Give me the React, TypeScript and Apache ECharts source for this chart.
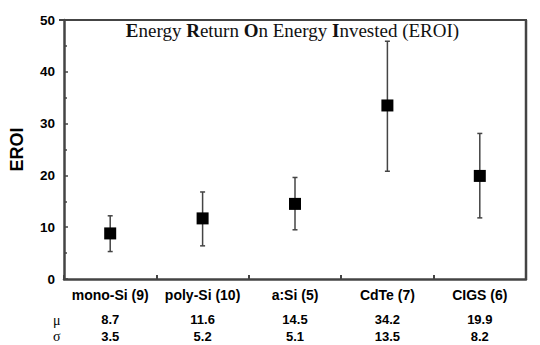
import React, { useEffect, useRef } from "react";
import * as echarts from "echarts";

const categories = ["mono-Si (9)", "poly-Si (10)", "a:Si (5)", "CdTe (7)", "CIGS (6)"];
const plotted = [8.8, 11.7, 14.5, 33.5, 19.9];
const lows = [5.3, 6.4, 9.5, 20.8, 11.8];
const highs = [12.2, 16.8, 19.6, 45.9, 28.1];
const muLabels = ["8.7", "11.6", "14.5", "34.2", "19.9"];
const sigmaLabels = ["3.5", "5.2", "5.1", "13.5", "8.2"];
const yTicks = [0, 10, 20, 30, 40, 50];

const GRID = { left: 59, right: 14, top: 20, bottom: 66 };
const W = 540;
const H = 345;
const FRAME = "#444";

export default function App() {
  const ref = useRef<HTMLDivElement>(null);
  useEffect(() => {
    if (!ref.current) return;
    const chart = echarts.init(ref.current, null, { renderer: "svg" });
    const labelFont = "Liberation Sans, Arial, sans-serif";
    const serif = "Liberation Serif, Times New Roman, serif";
    const rowAxis = (data: string[], offset: number) => ({
      type: "category",
      data,
      gridIndex: 0,
      position: "bottom",
      offset,
      axisLine: { show: false },
      axisTick: { show: false },
      axisLabel: {
        margin: 0,
        interval: 0,
        color: "#000",
        fontWeight: "bold",
        fontSize: 13,
        fontFamily: labelFont,
      },
    });
    const pw = W - GRID.left - GRID.right;
    const ph = H - GRID.top - GRID.bottom;
    chart.setOption({
      animation: false,
      grid: { ...GRID, show: false },
      title: {
        text: "{b|E}nergy {b|R}eturn {b|O}n Energy {b|I}nvested (EROI)",
        left: GRID.left + pw / 2,
        top: 21,
        padding: 0,
        textAlign: "center",
        textStyle: {
          fontFamily: serif,
          fontSize: 19,
          fontWeight: "normal",
          color: "#111",
          rich: {
            b: { fontFamily: serif, fontSize: 19, fontWeight: "bold", color: "#111" },
          },
        },
      },
      xAxis: [
        {
          type: "category",
          data: categories,
          boundaryGap: true,
          axisLine: { show: true, lineStyle: { color: FRAME, width: 2.5 } },
          axisTick: { show: true, inside: true, length: 4, lineStyle: { color: FRAME, width: 2 } },
          axisLabel: {
            margin: 9,
            interval: 0,
            color: "#000",
            fontWeight: "bold",
            fontSize: 14,
            fontFamily: labelFont,
          },
        },
        rowAxis(muLabels, 34),
        rowAxis(sigmaLabels, 51),
      ],
      yAxis: {
        type: "value",
        min: yTicks[0],
        max: yTicks[yTicks.length - 1],
        interval: 10,
        name: "EROI",
        nameLocation: "middle",
        nameGap: 38,
        nameTextStyle: {
          fontWeight: "bold",
          fontSize: 18,
          fontFamily: labelFont,
          color: "#000",
        },
        axisLine: { show: true, lineStyle: { color: FRAME, width: 2.5 } },
        axisTick: { show: true, inside: true, length: 4, lineStyle: { color: FRAME, width: 1.5 } },
        minorTick: { show: true, splitNumber: 2, length: 3, lineStyle: { color: FRAME, width: 1.5 } },
        splitLine: { show: false },
        axisLabel: {
          margin: 9,
          color: "#000",
          fontWeight: "bold",
          fontSize: 13.5,
          fontFamily: labelFont,
        },
      },
      graphic: [
        {
          type: "line",
          z: 100,
          silent: true,
          shape: { x1: GRID.left, y1: GRID.top, x2: GRID.left + pw + 1, y2: GRID.top },
          style: { stroke: FRAME, lineWidth: 2 },
        },
        {
          type: "line",
          z: 100,
          silent: true,
          shape: { x1: GRID.left + pw, y1: GRID.top, x2: GRID.left + pw, y2: GRID.top + ph },
          style: { stroke: FRAME, lineWidth: 2.5 },
        },
        {
          type: "text",
          left: 53,
          top: 313,
          style: { text: "μ", font: "14px Liberation Serif, serif", fill: "#000" },
        },
        {
          type: "text",
          left: 53,
          top: 329,
          style: { text: "σ", font: "14px Liberation Serif, serif", fill: "#000" },
        },
      ],
      series: [
        {
          type: "custom",
          xAxisIndex: 0,
          data: categories.map((_, i) => [i, lows[i], highs[i]]),
          renderItem: (params: any, api: any) => {
            const x = api.coord([api.value(0), 0])[0];
            const lo = api.coord([api.value(0), api.value(1)])[1];
            const hi = api.coord([api.value(0), api.value(2)])[1];
            const style = { stroke: "#444", lineWidth: 1.5 };
            const cap = 2.5;
            return {
              type: "group",
              children: [
                { type: "line", shape: { x1: x, y1: lo, x2: x, y2: hi }, style },
                { type: "line", shape: { x1: x - cap, y1: lo, x2: x + cap, y2: lo }, style },
                { type: "line", shape: { x1: x - cap, y1: hi, x2: x + cap, y2: hi }, style },
              ],
            };
          },
          z: 2,
        },
        {
          type: "scatter",
          xAxisIndex: 0,
          data: plotted,
          symbol: "rect",
          symbolSize: 12,
          itemStyle: { color: "#000", opacity: 1 },
          z: 3,
        },
      ],
    });
    return () => chart.dispose();
  }, []);
  return (
    <div
      ref={ref}
      style={{ width: W, height: H, position: "absolute", left: 0, top: 0 }}
    />
  );
}
